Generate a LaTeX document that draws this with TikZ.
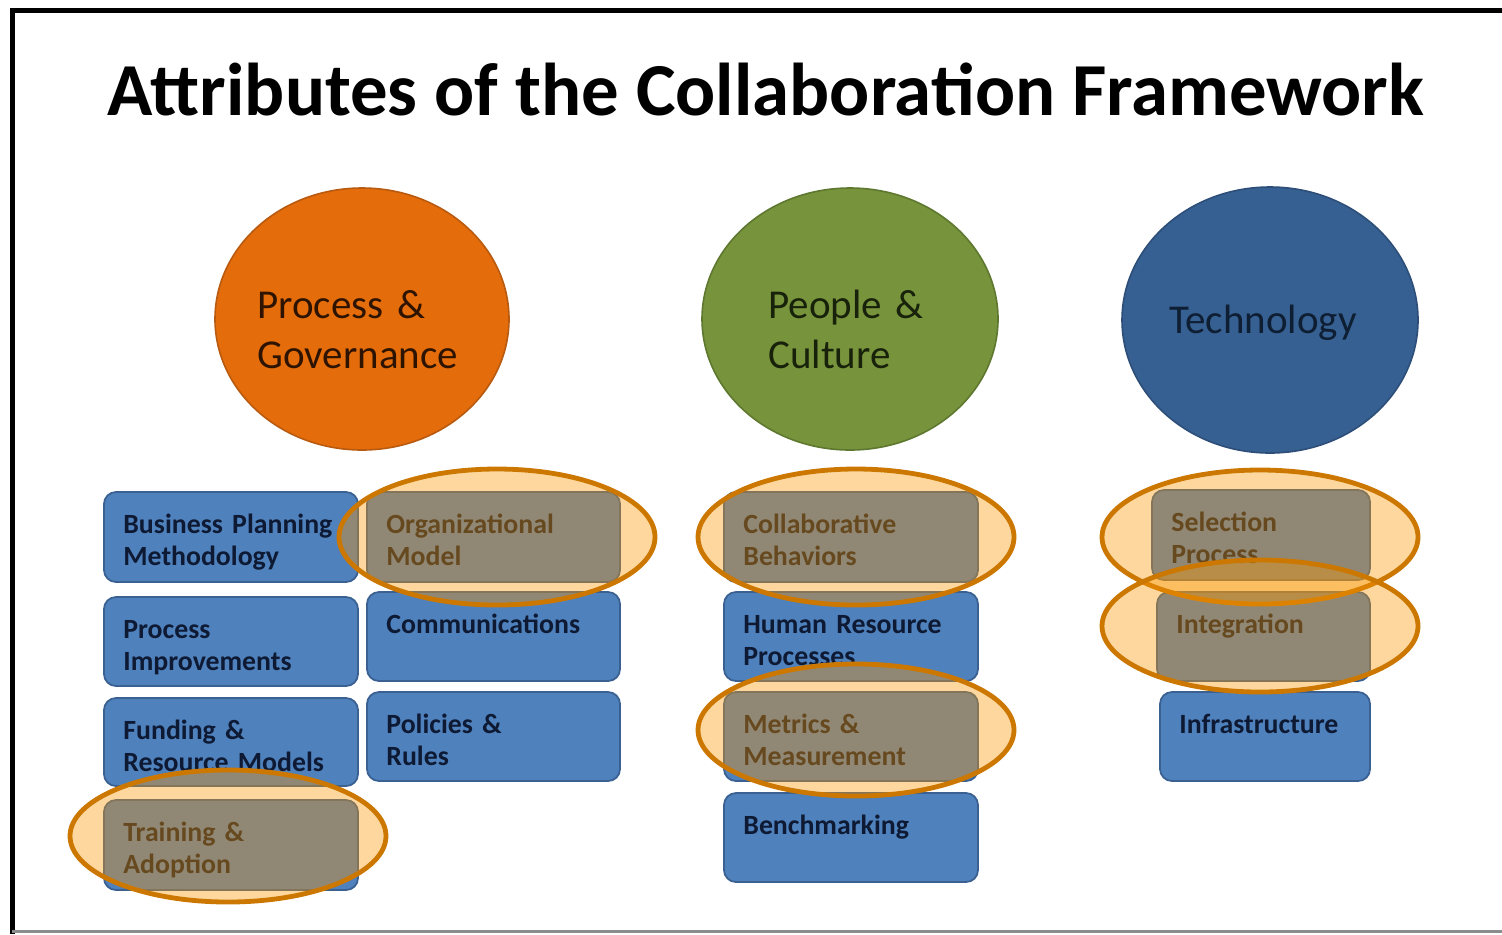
\documentclass[tikz,border=0pt]{standalone}
\usepackage{fontspec}
\setmainfont{Carlito}
\usetikzlibrary{shapes.geometric,calc}
\definecolor{orangeC}{HTML}{E46C0A}
\definecolor{orangeD}{HTML}{B85A10}
\definecolor{greenC}{HTML}{77933C}
\definecolor{greenD}{HTML}{5F7830}
\definecolor{blueC}{HTML}{376092}
\definecolor{blueD}{HTML}{2C4E78}
\definecolor{boxFill}{HTML}{4F81BD}
\definecolor{boxDraw}{HTML}{3A6192}
\definecolor{boxText}{HTML}{0E1A33}
\definecolor{hlFill}{RGB}{250,150,0}
\definecolor{hlDraw}{HTML}{CC7700}
\definecolor{txtOr}{HTML}{2E1400}
\definecolor{txtGr}{HTML}{18220A}
\definecolor{txtBl}{HTML}{0E1E33}
\newcommand\attrbox[6]{%
  \node (#1) [abox, anchor=north west, minimum width={(#4-#2)*0.5pt}, minimum height={(#5-#3)*0.5pt}] at (#2,#3) {};
  \node (#1t) [atext, anchor=base west] at ($(#1.north west)+(19,41)$) {#6};
}
\begin{document}
\begin{tikzpicture}[x=0.5pt,y=-0.5pt,
  abox/.style={draw=boxDraw, fill=boxFill, line width=0.9pt, rounded corners=6pt, inner sep=0pt, outer sep=0pt},
  atext/.style={text=boxText, font=\fontsize{13.9}{16.3}\selectfont\bfseries, text width=118pt, align=left, inner sep=0pt},
  circ/.style={ellipse, line width=0.8pt, inner sep=0pt},
  ctext/.style={font=\fontsize{20.5}{25}\selectfont, text width=130pt, align=left, inner sep=0pt},
  hl/.style={ellipse, fill=hlFill, fill opacity=0.38, draw=hlDraw, draw opacity=1, line width=2.4pt, inner sep=0pt}
]
\useasboundingbox (0,0) rectangle (1502,934);
\fill[white] (0,0) rectangle (1502,934);
% frame
\draw[black, line width=2.5pt] (10,10) -- (1502,10);
\draw[black, line width=2.5pt] (12,8.8) -- (12,934);
\draw[black!45, line width=1.5pt] (12,931) -- (1502,931);
% title
\node (title) [anchor=base, inner sep=0pt, font=\fontsize{37.4}{40}\selectfont\bfseries] at (766,115) {Attributes of the Collaboration Framework};
% circles
\node (pg) [circ, fill=orangeC, draw=orangeD, minimum width=147pt, minimum height=131pt] at (362,319) {};
\node (pgt) [ctext, text=txtOr, anchor=base west] at (257,318) {Process \&\\Governance};
\node (pc) [circ, fill=greenC, draw=greenD, minimum width=148pt, minimum height=131pt] at (850,319) {};
\node (pct) [ctext, text=txtGr, anchor=base west] at (768,318) {People \&\\Culture};
\node (tc) [circ, fill=blueC, draw=blueD, minimum width=148pt, minimum height=133pt] at (1270,320) {};
\node (tct) [anchor=base, inner sep=0pt, text=txtBl, font=\fontsize{20.5}{25}\selectfont] at (1263,333) {Technology};
% boxes
\attrbox{bpm}{104}{492}{358}{582}{Business Planning\\Methodology}
\attrbox{pim}{104}{597}{358}{686}{Process\\Improvements}
\attrbox{frm}{104}{698}{358}{786}{Funding \&\\Resource Models}
\attrbox{tad}{104}{800}{358}{890}{Training \&\\Adoption}
\attrbox{orm}{367}{492}{620}{582}{Organizational\\Model}
\attrbox{com}{367}{592}{620}{681}{Communications}
\attrbox{pol}{367}{692}{620}{781}{Policies \&\\Rules}
\attrbox{clb}{724}{492}{978}{582}{Collaborative\\Behaviors}
\attrbox{hrp}{724}{592}{978}{681}{Human Resource\\Processes}
\attrbox{mtm}{724}{692}{978}{781}{Metrics \&\\Measurement}
\attrbox{bch}{724}{793}{978}{882}{Benchmarking}
\attrbox{sel}{1152}{490}{1370}{580}{Selection\\Process}
\attrbox{itg}{1157}{592}{1370}{681}{Integration}
\attrbox{inf}{1160}{692}{1370}{781}{Infrastructure}
% highlights
\node (horm) [hl, minimum width=158pt, minimum height=68pt] at (497,537) {};
\node (htad) [hl, minimum width=158pt, minimum height=66pt] at (228,836) {};
\node (hclb) [hl, minimum width=158pt, minimum height=68pt] at (856,537) {};
\node (hmtm) [hl, minimum width=158pt, minimum height=66pt] at (856,730) {};
\node (hsel) [hl, minimum width=158pt, minimum height=67pt] at (1260,537) {};
\node (hitg) [hl, minimum width=158pt, minimum height=66pt] at (1260,626) {};
\end{tikzpicture}
\end{document}
